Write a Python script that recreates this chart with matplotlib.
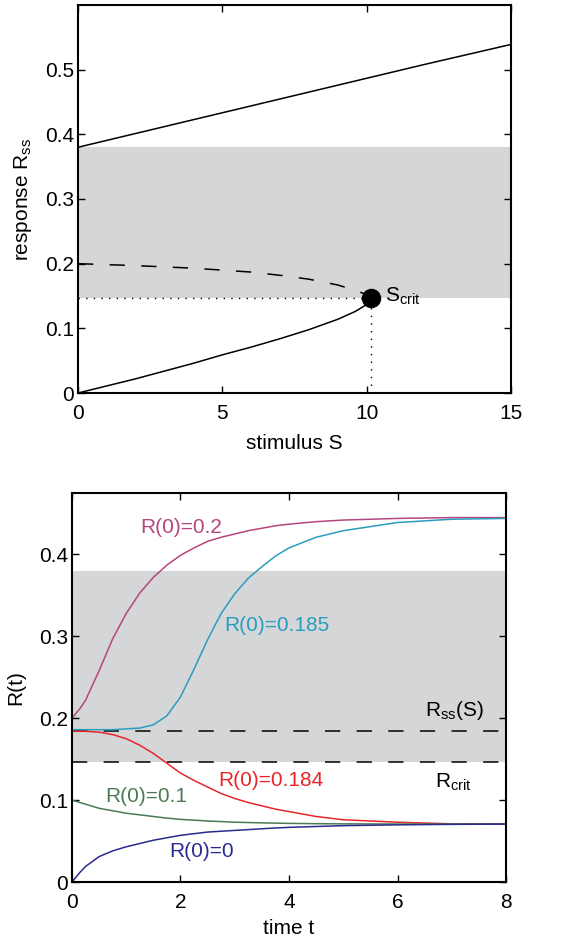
import matplotlib.pyplot as plt

plt.rcParams['font.family'] = ['Liberation Sans', 'DejaVu Sans']
plt.rcParams['mathtext.fontset'] = 'custom'
plt.rcParams['mathtext.rm'] = 'Liberation Sans'
plt.rcParams['mathtext.it'] = 'Liberation Sans'

# Panel A: bifurcation diagram (stimulus S vs steady-state response R_ss)
s_upper = [0, 3, 6, 9, 12, 15]
r_upper = [0.380, 0.412, 0.444, 0.476, 0.508, 0.539]

s_unstable = [0, 2, 4, 6, 7, 8, 9, 9.6, 10.0, 10.14]
r_unstable = [0.200, 0.197, 0.193, 0.187, 0.182, 0.176, 0.167, 0.159, 0.152, 0.147]

s_lower = [0, 1, 2, 3, 4, 5, 6, 7, 8, 9, 9.6, 9.9, 10.05, 10.14]
r_lower = [0, 0.011, 0.022, 0.034, 0.046, 0.059, 0.071, 0.084, 0.098, 0.114, 0.126, 0.134, 0.140, 0.147]

s_crit = 10.14
r_crit = 0.147
band = (0.147, 0.380)

# Panel B: time courses R(t) for different initial values
t_pts = [0, 0.15, 0.25, 0.5, 0.75, 1.0, 1.25, 1.5, 1.75, 2.0, 2.25, 2.5, 2.75, 3.0,
         3.25, 3.5, 3.75, 4.0, 4.5, 5.0, 6.0, 7.0, 8.0]
r_02 = [0.200, 0.212, 0.222, 0.258, 0.297, 0.328, 0.353, 0.372, 0.387, 0.399, 0.408, 0.416, 0.421, 0.425,
        0.429, 0.432, 0.435, 0.437, 0.440, 0.442, 0.444, 0.445, 0.445]
r_0185 = [0.186, 0.186, 0.186, 0.186, 0.186, 0.187, 0.188, 0.192, 0.203, 0.226, 0.260, 0.296, 0.328, 0.352,
          0.371, 0.385, 0.398, 0.408, 0.421, 0.429, 0.439, 0.443, 0.444]
r_0184 = [0.184, 0.184, 0.184, 0.183, 0.180, 0.175, 0.167, 0.157, 0.145, 0.133, 0.124, 0.116, 0.108, 0.102,
          0.097, 0.093, 0.089, 0.086, 0.080, 0.076, 0.073, 0.071, 0.071]
r_01 = [0.100, 0.097, 0.095, 0.090, 0.087, 0.084, 0.082, 0.080, 0.078, 0.0765, 0.0755, 0.0745, 0.0738, 0.073,
        0.0726, 0.0722, 0.0719, 0.0716, 0.0712, 0.071, 0.0708, 0.0707, 0.0707]
r_00 = [0.000, 0.012, 0.019, 0.031, 0.038, 0.043, 0.047, 0.051, 0.054, 0.057, 0.059, 0.061, 0.062, 0.063,
        0.064, 0.065, 0.066, 0.0667, 0.0678, 0.0688, 0.0698, 0.0704, 0.0707]
r_ss = 0.185

c_02 = '#b5467e'
c_0185 = '#2a9dbf'
c_0184 = '#e8262a'
c_01 = '#4c7a55'
c_00 = '#2a2a90'
gray = '#d5d6d8'

fig = plt.figure(figsize=(5.66, 9.40), dpi=100)
ax1 = fig.add_axes([0.1378, 0.5819, 0.765, 0.4128])
ax2 = fig.add_axes([0.1272, 0.0617, 0.7668, 0.4138])

fs = 15
dash = (10, 10.7)
dot = (1, 4.5)

# --- top panel ---
ax1.axhspan(band[0], band[1], color=gray, lw=0, zorder=0)
ax1.plot(s_upper, r_upper, color='black', lw=1.1)
ax1.plot(s_lower, r_lower, color='black', lw=1.1)
ax1.plot(s_unstable, r_unstable, color='black', lw=1.1, dashes=dash)
ax1.plot([0, s_crit], [r_crit, r_crit], color='black', lw=1.0, dashes=dot)
ax1.plot([s_crit, s_crit], [0, r_crit], color='black', lw=1.0, dashes=dot)
ax1.plot([s_crit], [r_crit], 'o', color='black', ms=13, zorder=5)
ax1.text(s_crit + 0.5, r_crit + 0.003, r'S$_{\mathrm{crit}}$', fontsize=fs, va='center')
ax1.set_xlim(0, 15)
ax1.set_ylim(0, 0.6)
ax1.set_xticks([0, 5, 10, 15])
ax1.set_xticklabels(['0', '5', '10', '15'])
ax1.set_yticks([0, 0.1, 0.2, 0.3, 0.4, 0.5])
ax1.set_yticklabels(['0', '0.1', '0.2', '0.3', '0.4', '0.5'])
ax1.set_xlabel('stimulus S', fontsize=fs, labelpad=8)
ax1.set_ylabel(r'response R$_{\mathrm{ss}}$', fontsize=fs, labelpad=8)

# --- bottom panel ---
ax2.axhspan(band[0], band[1], color=gray, lw=0, zorder=0)
ax2.axhline(r_ss, color='black', lw=1.1, dashes=dash)
ax2.axhline(r_crit, color='black', lw=1.1, dashes=dash)
ax2.plot(t_pts, r_02, color=c_02, lw=1.1)
ax2.plot(t_pts, r_0185, color=c_0185, lw=1.1)
ax2.plot(t_pts, r_0184, color=c_0184, lw=1.1)
ax2.plot(t_pts, r_01, color=c_01, lw=1.1)
ax2.plot(t_pts, r_00, color=c_00, lw=1.1)
ax2.text(1.25, 0.433, 'R(0)=0.2', color=c_02, fontsize=fs, va='center')
ax2.text(2.8, 0.313, 'R(0)=0.185', color=c_0185, fontsize=fs, va='center')
ax2.text(2.7, 0.124, 'R(0)=0.184', color=c_0184, fontsize=fs, va='center')
ax2.text(0.61, 0.104, 'R(0)=0.1', color=c_01, fontsize=fs, va='center')
ax2.text(1.8, 0.037, 'R(0)=0', color=c_00, fontsize=fs, va='center')
ax2.text(6.5, 0.209, r'R$_{\mathrm{ss}}$(S)', fontsize=fs, va='center')
ax2.text(6.7, 0.122, r'R$_{\mathrm{crit}}$', fontsize=fs, va='center')
ax2.set_xlim(0, 8)
ax2.set_ylim(0, 0.475)
ax2.set_xticks([0, 2, 4, 6, 8])
ax2.set_yticks([0, 0.1, 0.2, 0.3, 0.4])
ax2.set_yticklabels(['0', '0.1', '0.2', '0.3', '0.4'])
ax2.set_xlabel('time t', fontsize=fs, labelpad=5)
ax2.set_ylabel('R(t)', fontsize=fs, labelpad=10)

for ax in (ax1, ax2):
    ax.tick_params(direction='in', top=True, right=True, length=5, width=1, labelsize=fs)
    ax.tick_params(axis='x', pad=8)
    ax.tick_params(axis='y', pad=3)
    for sp in ax.spines.values():
        sp.set_linewidth(1.5)

fig.savefig('out.png', dpi=100)
